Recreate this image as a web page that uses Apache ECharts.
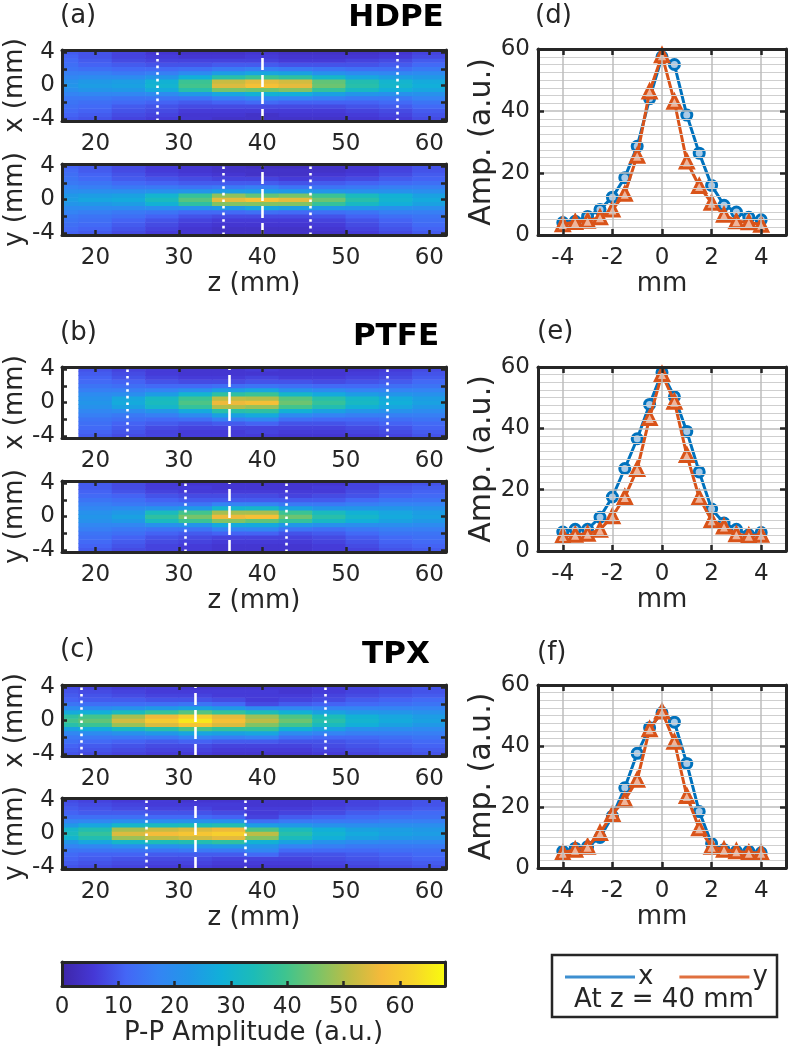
<!DOCTYPE html>
<html><head><meta charset="utf-8">
<script src="https://cdn.jsdelivr.net/npm/echarts@6/dist/echarts.min.js"></script>
<style>html,body{margin:0;padding:0;background:#fff}#c{width:793px;height:1049px}</style>
</head><body><div id="c"></div>
<script>
// ---------- data ----------
const zFull = [16,20,24,28,32,36,40,44,48,52,56,60];
const zPTFE = [20,24,28,32,36,40,44,48,52,56,60];
const yRows = [-4,-3.5,-3,-2.5,-2,-1.5,-1,-0.5,0,0.5,1,1.5,2,2.5,3,3.5,4];

const hdpeX = [
[10,11,12,13,14,15,17,20,22,21,18,16,14,13,12,11,10],
[9,10,11,12,13,15,18,22,24,23,19,16,13,11,10,9,9],
[7,8,9,10,12,14,18,23,25,24,19,15,12,10,8,7,7],
[6,7,8,9,11,14,19,27,30,29,22,16,12,9,7,6,5],
[5,5,6,8,10,14,23,36,40,39,28,19,13,9,7,5,4],
[4,5,6,8,11,16,26,45,54,52,36,24,15,10,7,5,4],
[4,4,6,8,12,18,29,44,58,55,39,26,16,10,7,6,5],
[4,5,6,8,11,17,28,46,55,53,37,25,15,9,6,5,4],
[4,5,6,8,11,16,25,38,44,43,31,21,14,9,6,5,4],
[5,6,7,9,11,15,22,32,36,35,26,19,13,9,7,5,4],
[6,7,8,10,12,15,21,28,31,30,24,18,13,10,8,6,5],
[8,9,10,12,14,17,21,26,28,27,23,19,15,12,10,8,7]];
const hdpeY = [
[11,12,13,14,15,17,19,22,24,23,20,17,15,14,13,12,11],
[10,11,12,13,14,16,19,23,26,24,20,16,14,12,11,10,10],
[8,9,10,11,13,15,19,24,27,25,20,15,12,10,9,8,8],
[6,7,8,9,11,14,20,29,33,30,21,15,11,9,7,6,6],
[5,5,6,7,9,12,21,37,42,38,22,14,10,8,6,5,5],
[4,4,5,6,8,12,23,46,55,47,24,15,10,7,5,4,4],
[4,4,5,6,8,13,26,46,58,43,24,16,10,7,4,4,3],
[4,4,5,6,8,12,24,46,55,45,23,14,9,6,4,4,3],
[4,5,6,7,9,13,23,38,44,39,22,14,10,7,5,4,4],
[6,7,8,9,11,14,22,32,36,33,21,15,11,8,6,5,5],
[8,9,10,11,13,16,21,28,30,29,21,16,12,10,8,7,7],
[10,11,12,13,14,16,20,25,27,25,20,16,13,11,10,9,9]];
const ptfeX = [
[10,11,12,13,14,16,18,21,22,21,19,16,14,12,11,10,9],
[8,9,10,11,13,15,19,25,27,26,20,16,13,11,9,8,7],
[7,7,8,10,12,16,22,31,33,32,24,17,12,9,7,6,6],
[6,6,7,9,13,19,27,38,41,39,30,20,12,8,6,5,5],
[6,6,7,10,16,25,36,50,56,51,37,24,13,8,6,5,5],
[6,7,7,11,18,27,37,48,58,50,39,26,14,9,7,5,6],
[5,6,7,9,13,19,29,40,44,42,31,21,13,9,6,5,5],
[5,6,7,9,12,17,25,35,38,36,27,19,12,8,6,5,5],
[6,7,8,10,12,16,22,29,32,31,24,17,12,9,7,6,5],
[7,8,9,11,13,16,21,26,28,27,22,17,13,10,8,7,6],
[9,10,11,12,14,16,19,23,25,24,21,17,14,12,10,9,8]];
const ptfeY = [
[10,11,12,13,14,16,18,21,22,21,18,16,14,12,11,10,10],
[8,9,10,11,13,15,18,23,25,23,19,15,13,11,9,8,8],
[7,7,8,9,11,14,21,33,37,33,21,14,11,9,7,6,6],
[6,6,7,8,10,14,22,39,45,40,23,14,10,8,6,6,5],
[5,5,6,7,11,17,27,46,56,49,30,17,10,8,6,5,5],
[5,5,6,7,11,18,27,43,58,49,31,17,10,8,6,5,5],
[5,5,6,7,9,14,23,38,44,39,25,15,10,7,6,5,5],
[6,6,7,8,10,13,21,32,36,33,22,15,10,8,6,6,5],
[7,8,9,10,12,15,20,28,31,29,22,16,12,9,8,7,7],
[9,10,11,12,14,16,20,25,27,26,22,17,14,11,10,9,8],
[10,11,12,13,14,16,19,23,25,24,21,17,14,12,11,10,9]];
const tpxX = [
[9,10,11,13,15,18,25,36,40,37,27,19,14,11,10,9,8],
[8,9,10,12,15,19,27,39,43,40,28,19,13,10,9,8,7],
[7,8,9,11,15,21,32,48,53,49,33,21,13,10,8,7,6],
[6,7,8,10,15,23,36,54,60,56,38,23,13,9,7,6,6],
[6,7,8,11,17,26,41,59,65,61,42,25,14,9,7,6,5],
[5,6,7,10,16,25,38,54,58,55,38,23,12,8,6,6,5],
[5,6,7,10,17,26,38,46,51,48,34,19,8,6,6,6,5],
[5,6,7,9,13,19,29,40,44,41,29,18,10,7,6,5,5],
[6,7,8,9,12,17,25,33,36,34,25,17,11,8,7,6,6],
[7,8,9,10,12,16,21,28,30,29,23,17,12,10,8,7,7],
[8,9,10,11,13,16,20,25,27,26,22,17,13,11,9,8,8],
[9,10,11,12,14,16,19,23,25,24,21,17,14,12,10,9,9]];
const tpxY = [
[9,10,11,12,14,17,22,30,33,31,23,17,13,11,10,9,8],
[8,9,10,11,14,18,26,35,38,35,26,18,13,10,9,8,7],
[7,8,9,11,14,20,31,48,54,49,31,20,13,10,8,7,6],
[6,7,8,10,14,21,34,51,57,52,33,20,12,9,7,6,6],
[6,7,8,10,15,22,35,53,59,54,34,21,12,9,7,6,5],
[5,6,7,10,15,23,37,55,61,56,35,21,11,8,6,6,5],
[5,6,7,12,18,22,29,46,51,41,24,13,7,6,6,5,5],
[5,6,7,9,12,17,25,33,36,33,23,15,10,7,6,5,5],
[6,7,8,9,12,16,21,28,30,28,21,15,11,8,7,6,6],
[7,8,9,10,12,15,19,25,27,25,20,15,12,10,8,7,7],
[8,9,10,11,13,15,18,23,25,24,20,16,13,11,9,8,8],
[9,10,11,12,13,15,18,22,24,23,20,16,13,12,10,9,9]];

// profiles at z = 40 mm
const mmPos = [-4,-3.5,-3,-2.5,-2,-1.5,-1,-0.5,0,0.5,1,1.5,2,2.5,3,3.5,4];
const dX = [4,4.4,6,8.2,12.2,18.5,28.6,44,57.5,55,38.7,26.4,16,9.6,7.4,5.7,4.9];
const dY = [3.5,4.2,4.6,5.7,8.2,13.3,25.6,46.3,58,43,23.7,15.8,10.4,6.5,4.4,4.1,3.3];
const eX = [6.2,7.1,7.1,11,17.6,26.9,36.6,47.8,58.2,50.3,39,25.8,13.7,9.1,7.1,5.3,6];
const eY = [4.9,5.3,5.6,6.9,11.3,17.6,26.7,43.4,57.7,48.7,31.3,17.4,10,8,5.5,5,5.3];
const fX = [5.5,6.5,7,10,17,26.3,37.6,46,50.9,47.8,34.3,18.5,8,6,5.5,5.5,5];
const fY = [5,6,7,11.5,17.7,22.3,28.9,45.5,51.3,41.4,23.6,13,7,6,5.5,5,5];

// marker lines (z, mm)
const dotA1 = [27.4, 56.2], dashA = [40];
const dotA2 = [35.3, 45.7];
const dotB1 = [23.8, 55.0], dashB = [36];
const dotB2 = [30.8, 42.9];
const dotC1 = [18.3, 47.5], dashC = [32];
const dotC2 = [26.1, 38.0];

// ticks
const zTicks = [20,30,40,50,60];
const yTickVals = [-4,-2,0,2,4];
const yLabelVals = [-4,0,4];
const mmTicks = [-4,-2,0,2,4];
const cbMax = 68;

// ---------- style ----------
const FONT = 'DejaVu Sans';
const INK = '#262626';
const parula = ['#3e26a8','#4538d6','#4466f6','#3484f4','#2197e8','#11b0d8','#1cbcb8','#3ec48f','#7ac468','#bdbd45','#f5ba3a','#f7d52a','#f9fb0e'];

const heatPanels = [
  {data: hdpeX, z: zFull, top: 50,  name: 'x (mm)', xname: '',       dot: dotA1, dash: dashA},
  {data: hdpeY, z: zFull, top: 164, name: 'y (mm)', xname: 'z (mm)', dot: dotA2, dash: dashA},
  {data: ptfeX, z: zPTFE, top: 367, name: 'x (mm)', xname: '',       dot: dotB1, dash: dashB},
  {data: ptfeY, z: zPTFE, top: 481, name: 'y (mm)', xname: 'z (mm)', dot: dotB2, dash: dashB},
  {data: tpxX,  z: zFull, top: 685, name: 'x (mm)', xname: '',       dot: dotC1, dash: dashC},
  {data: tpxY,  z: zFull, top: 798, name: 'y (mm)', xname: 'z (mm)', dot: dotC2, dash: dashC}
];
const linePanels = [
  {x: dX, y: dY, top: 49,  height: 186},
  {x: eX, y: eY, top: 367, height: 184},
  {x: fX, y: fY, top: 685, height: 183}
];

const grids = [], xAxes = [], yAxes = [], series = [];
const lbl = (extra) => Object.assign({fontFamily: FONT, fontSize: 23, color: INK}, extra || {});
const frameLine = {show: true, onZero: false, lineStyle: {color: INK, width: 3}};

function cellRender(params, api) {
  const z = api.value(0), y = api.value(1);
  const p1 = api.coord([z - 2, y + 0.25]);
  const p2 = api.coord([z + 2, y - 0.25]);
  const cs = params.coordSys;
  const r = echarts.graphic.clipRectByRect(
    {x: p1[0] - 0.3, y: p1[1] - 0.3, width: p2[0] - p1[0] + 0.6, height: p2[1] - p1[1] + 0.6},
    {x: cs.x, y: cs.y, width: cs.width, height: cs.height});
  if (!r) return;
  return {type: 'rect', shape: r, style: {fill: api.visual('color')}};
}

heatPanels.forEach((p, i) => {
  const g = grids.length;
  grids.push({left: 62, top: p.top, width: 384, height: 71});
  const xb = xAxes.length;
  xAxes.push({gridIndex: g, type: 'value', min: 16, max: 62, position: 'bottom', z: 5,
    axisLine: frameLine,
    axisTick: {show: true, inside: true, length: 5, customValues: zTicks, lineStyle: {color: INK, width: 2.5}},
    axisLabel: lbl({margin: 12, customValues: zTicks}),
    splitLine: {show: false},
    name: p.xname, nameLocation: 'middle', nameGap: 34,
    nameTextStyle: {fontFamily: FONT, fontSize: 26, color: INK}});
  xAxes.push({gridIndex: g, type: 'value', min: 16, max: 62, position: 'top', z: 5,
    axisLine: frameLine,
    axisTick: {show: true, inside: true, length: 5, customValues: zTicks, lineStyle: {color: INK, width: 2.5}},
    axisLabel: {show: false}, splitLine: {show: false}});
  const yb = yAxes.length;
  yAxes.push({gridIndex: g, type: 'value', min: -4.25, max: 4.25, position: 'left', z: 5,
    axisLine: frameLine,
    axisTick: {show: true, inside: true, length: 5, customValues: yTickVals, lineStyle: {color: INK, width: 2.5}},
    axisLabel: lbl({margin: 7, customValues: yLabelVals}),
    splitLine: {show: false},
    name: p.name, nameLocation: 'middle', nameGap: 34,
    nameTextStyle: {fontFamily: FONT, fontSize: 26, color: INK}});
  yAxes.push({gridIndex: g, type: 'value', min: -4.25, max: 4.25, position: 'right', z: 5,
    axisLine: frameLine,
    axisTick: {show: true, inside: true, length: 5, customValues: yTickVals, lineStyle: {color: INK, width: 2.5}},
    axisLabel: {show: false}, splitLine: {show: false}});
  const cells = [];
  p.data.forEach((col, ci) => col.forEach((v, ri) => cells.push([p.z[ci], yRows[ri], v])));
  const ml = [];
  p.dot.forEach(v => ml.push({xAxis: v, lineStyle: {color: '#ffffff', width: 2.6, type: [2.6, 4], cap: 'butt'}}));
  p.dash.forEach(v => ml.push({xAxis: v, lineStyle: {color: '#ffffff', width: 2.6, type: [12, 5], cap: 'butt'}}));
  series.push({type: 'custom', name: 'heat' + i, xAxisIndex: xb, yAxisIndex: yb,
    renderItem: cellRender, data: cells, encode: {x: 0, y: 1}, z: 2, clip: true,
    markLine: {silent: true, symbol: ['none', 'none'], label: {show: false}, data: ml, animation: false}});
});

// colorbar
{
  const g = grids.length;
  grids.push({left: 62, top: 962, width: 383, height: 24});
  const xi = xAxes.length;
  xAxes.push({gridIndex: g, type: 'value', min: 0, max: cbMax, interval: 10, position: 'bottom', z: 5,
    axisLine: frameLine,
    axisTick: {show: true, inside: true, length: 5, lineStyle: {color: INK, width: 2.5}},
    axisLabel: lbl({margin: 10, showMaxLabel: false}),
    splitLine: {show: false},
    name: 'P-P Amplitude (a.u.)', nameLocation: 'middle', nameGap: 34,
    nameTextStyle: {fontFamily: FONT, fontSize: 26, color: INK}});
  xAxes.push({gridIndex: g, type: 'value', min: 0, max: cbMax, position: 'top', z: 5,
    axisLine: frameLine, axisTick: {show: false}, axisLabel: {show: false}, splitLine: {show: false}});
  const yi = yAxes.length;
  yAxes.push({gridIndex: g, type: 'value', min: 0, max: 1, position: 'left', z: 5,
    axisLine: frameLine, axisTick: {show: false}, axisLabel: {show: false}, splitLine: {show: false}});
  yAxes.push({gridIndex: g, type: 'value', min: 0, max: 1, position: 'right', z: 5,
    axisLine: frameLine, axisTick: {show: false}, axisLabel: {show: false}, splitLine: {show: false}});
  series.push({type: 'custom', xAxisIndex: xi, yAxisIndex: yi, z: 2,
    data: [[0, cbMax]],
    renderItem: (params, api) => {
      const a = api.coord([api.value(0), 1]);
      const b = api.coord([api.value(1), 0]);
      const stops = parula.map((c, k) => ({offset: k / (parula.length - 1), color: c}));
      return {type: 'rect', shape: {x: a[0], y: a[1], width: b[0] - a[0], height: b[1] - a[1]},
        style: {fill: new echarts.graphic.LinearGradient(0, 0, 1, 0, stops)}};
    }});
}

// line panels
linePanels.forEach((p, i) => {
  const g = grids.length;
  grids.push({left: 538, top: p.top, width: 248, height: p.height});
  const xb = xAxes.length;
  xAxes.push({gridIndex: g, type: 'value', min: -5, max: 5, interval: 1, position: 'bottom', z: 5,
    axisLine: frameLine,
    axisTick: {show: true, inside: true, length: 6, customValues: mmTicks, lineStyle: {color: INK, width: 2.5}},
    axisLabel: lbl({margin: 12, customValues: mmTicks}),
    splitLine: {show: true, lineStyle: {color: '#bdbdbd', width: 1.5}},
    name: 'mm', nameLocation: 'middle', nameGap: 34,
    nameTextStyle: {fontFamily: FONT, fontSize: 26, color: INK}});
  xAxes.push({gridIndex: g, type: 'value', min: -5, max: 5, interval: 1, position: 'top', z: 5,
    axisLine: frameLine,
    axisTick: {show: true, inside: true, length: 6, customValues: mmTicks, lineStyle: {color: INK, width: 2.5}},
    axisLabel: {show: false}, splitLine: {show: false}});
  const yb = yAxes.length;
  yAxes.push({gridIndex: g, type: 'value', min: 0, max: 60, interval: 20, position: 'left', z: 5,
    axisLine: frameLine,
    axisTick: {show: true, inside: true, length: 6, lineStyle: {color: INK, width: 2.5}},
    axisLabel: lbl({margin: 8}),
    splitLine: {show: true, lineStyle: {color: '#bdbdbd', width: 1.5}},
    minorTick: {show: false, splitNumber: 8},
    minorSplitLine: {show: true, lineStyle: {color: '#cfcfcf', width: 1.2}},
    name: 'Amp. (a.u.)', nameLocation: 'middle', nameGap: 40,
    nameTextStyle: {fontFamily: FONT, fontSize: 30, color: INK}});
  yAxes.push({gridIndex: g, type: 'value', min: 0, max: 60, interval: 20, position: 'right', z: 5,
    axisLine: frameLine,
    axisTick: {show: true, inside: true, length: 6, lineStyle: {color: INK, width: 2.5}},
    axisLabel: {show: false}, splitLine: {show: false}});
  series.push({type: 'line', name: 'x', xAxisIndex: xb, yAxisIndex: yb, z: 3,
    data: mmPos.map((m, k) => [m, p.x[k]]),
    symbol: 'circle', symbolSize: 10,
    lineStyle: {color: '#0072BD', width: 3, type: 'solid'},
    itemStyle: {color: '#a9cbe8', borderColor: '#0072BD', borderWidth: 3}});
  series.push({type: 'line', name: 'y', xAxisIndex: xb, yAxisIndex: yb, z: 4,
    data: mmPos.map((m, k) => [m, p.y[k]]),
    symbol: 'triangle', symbolSize: 13,
    lineStyle: {color: '#D95319', width: 3, type: 'solid'},
    itemStyle: {color: '#f0b49a', borderColor: '#D95319', borderWidth: 3}});
});

const txt = (text, x, y, opts) => ({type: 'text', x: x, y: y, z: 20,
  style: Object.assign({text: text, fill: INK, font: '26px "DejaVu Sans"', textVerticalAlign: 'middle'}, opts || {})});

const option = {
  animation: false,
  backgroundColor: '#ffffff',
  grid: grids, xAxis: xAxes, yAxis: yAxes, series: series,
  visualMap: {show: false, type: 'continuous', min: 0, max: cbMax, dimension: 2,
    seriesIndex: [0, 1, 2, 3, 4, 5], inRange: {color: parula}},
  legend: {left: 560, top: 959, itemWidth: 70, itemHeight: 3, itemGap: 26,
    data: [{name: 'x', icon: 'rect', itemStyle: {color: '#3d8fd0', borderWidth: 0}},
           {name: 'y', icon: 'rect', itemStyle: {color: '#e0703f', borderWidth: 0}}],
    textStyle: {fontFamily: FONT, fontSize: 26, color: INK, padding: [0, 0, 0, -2]},
    selectedMode: false},
  graphic: [
    {type: 'rect', z: 1, shape: {x: 552, y: 955, width: 225, height: 62},
      style: {fill: '#fff', stroke: INK, lineWidth: 2.5}},
    txt('At z = 40 mm', 664, 1000, {textAlign: 'center'}),
    txt('(a)', 60, 16), txt('(b)', 60, 333), txt('(c)', 60, 650),
    txt('(d)', 535, 16), txt('(e)', 537, 332), txt('(f)', 537, 653),
    txt('HDPE', 396, 18, {textAlign: 'center', font: 'bold 31px "DejaVu Sans"', fill: '#000'}),
    txt('PTFE', 396, 337, {textAlign: 'center', font: 'bold 31px "DejaVu Sans"', fill: '#000'}),
    txt('TPX', 396, 655, {textAlign: 'center', font: 'bold 31px "DejaVu Sans"', fill: '#000'})
  ]
};

const chart = echarts.init(document.getElementById('c'), null, {renderer: 'canvas', width: 793, height: 1049});
chart.setOption(option);
</script>
</body></html>
